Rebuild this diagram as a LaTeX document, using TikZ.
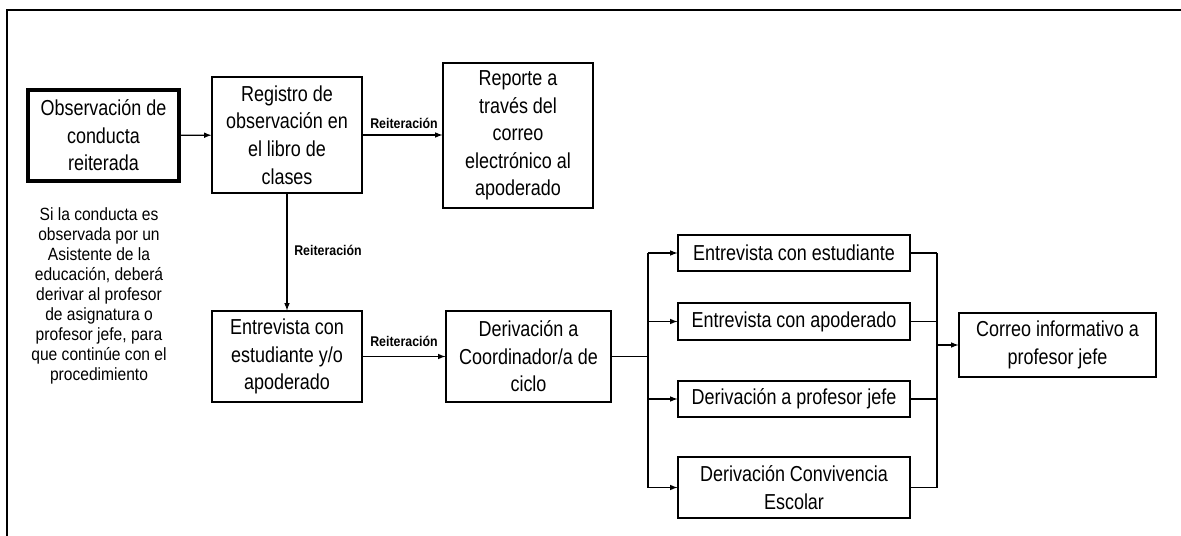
\documentclass[tikz,border=0pt]{standalone}
\usepackage{fontspec}
\setmainfont[FakeStretch=0.88]{Liberation Sans}
\newfontfamily\cajafamily[FakeStretch=0.83]{Liberation Sans}
\usepackage{tikz}
\usetikzlibrary{positioning,arrows,calc}
\newcommand{\cajafont}{\cajafamily\fontsize{15.4}{19.6}\selectfont}
\newcommand{\notafont}{\fontsize{12.6}{14.2}\selectfont}
\newcommand{\etiqfont}{\fontsize{10}{12}\selectfont\bfseries}
\tikzset{caja/.style={draw,line width=0.8pt,align=center,font=\cajafont,inner sep=2pt}}
\tikzset{flecha/.style={-latex,line width=0.8pt}}
\tikzset{linea/.style={line width=0.8pt}}
\tikzset{etiq/.style={font=\etiqfont,inner sep=1pt}}

\begin{document}
\begin{tikzpicture}[x=0.025cm,y=-0.025cm]
	\useasboundingbox (0,0) rectangle (1181,536);
	\draw[line width=1.4pt] (7,536) -- (7,10) -- (1181,10);
	%%
	\node[caja,line width=2.2pt,minimum width=3.775cm,minimum height=2.275cm] (obs) at (103.5,135.5) {Observación de\\conducta\\reiterada};
	\node[align=center,font=\notafont] (nota) at (99,296) {Si la conducta es\\observada por un\\Asistente de la\\educación, deberá\\derivar al profesor\\de asignatura o\\profesor jefe, para\\que continúe con el\\procedimiento};
	\node[caja,minimum width=3.75cm,minimum height=2.9cm] (reg) at (287,135) {Registro de\\observación en\\el libro de\\clases};
	\node[caja,minimum width=3.75cm,minimum height=3.625cm] (rep) at (518,135.5) {Reporte a\\través del\\correo\\electrónico al\\apoderado};
	\node[caja,minimum width=3.75cm,minimum height=2.275cm] (ent) at (287,356.5) {Entrevista con\\estudiante y/o\\apoderado};
	\node[caja,minimum width=4.125cm,minimum height=2.275cm] (der) at (528.5,356.5) {Derivación a\\Coordinador/a de\\ciclo};
	%%
	\node[caja,minimum width=5.8cm,minimum height=0.9cm] (entest) at (794,253) {Entrevista con estudiante};
	\node[caja,minimum width=5.8cm,minimum height=0.925cm] (entapo) at (794,321.5) {Entrevista con apoderado};
	\node[caja,minimum width=5.8cm,minimum height=0.9cm] (derprof) at (794,399) {Derivación a profesor jefe};
	\node[caja,minimum width=5.8cm,minimum height=1.525cm] (derconv) at (794,487.5) {Derivación Convivencia\\Escolar};
	\node[caja,minimum width=4.925cm,minimum height=1.6cm] (correo) at (1057.5,345) {Correo informativo a\\profesor jefe};
	%%
	\draw[flecha] (obs) -- (reg);
	\draw[flecha] (reg.east) -- (rep.west |- reg.east);
	\draw[flecha] (reg) -- (ent);
	\draw[flecha] (ent) -- (der);
	\node[etiq] (r1) at (404,123) {Reiteración};
	\node[etiq] (r2) at (328,250) {Reiteración};
	\node[etiq] (r3) at (404,341) {Reiteración};
	%%
	\coordinate (izq) at (648,356.5);
	\coordinate (der1) at (937,345);
	\draw[linea] (der.east) -- (izq);
	\draw[linea] (izq |- entest) -- (izq |- derconv);
	\foreach \n in {entest,entapo,derprof,derconv} {
		\draw[flecha] (izq |- \n) -- (\n.west);
		\draw[linea] (\n.east) -- (der1 |- \n);
	}
	\draw[linea] (der1 |- entest) -- (der1 |- derconv);
	\draw[flecha] (der1) -- (correo.west);

\end{tikzpicture}
\end{document}
